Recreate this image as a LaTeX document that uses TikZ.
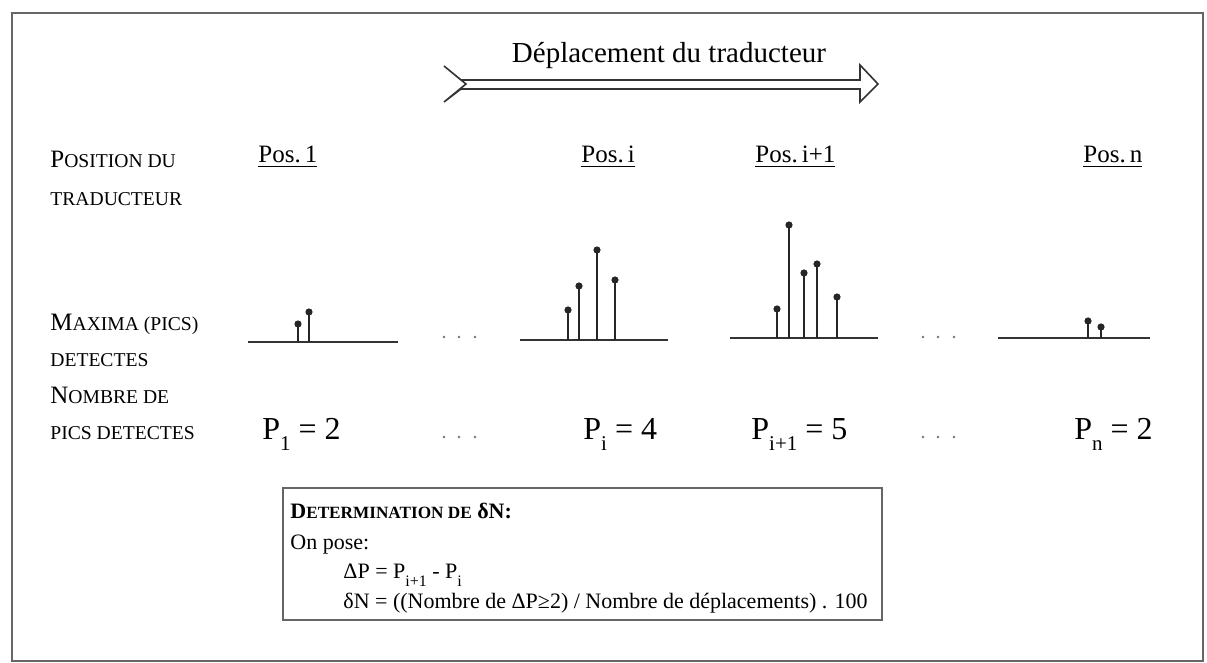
\documentclass[tikz,border=0pt]{standalone}
\usepackage{fontspec}
\setmainfont{Liberation Serif}
\newcommand\bigsc[2]{{\fontsize{12.5}{15}\selectfont #1}{\fontsize{9.8}{12}\selectfont #2}}
\newcommand\smsc[1]{{\fontsize{9.8}{12}\selectfont #1}}
\newcommand\lowsub[3]{\raisebox{-#1}{\fontsize{#2}{12}\selectfont #3}}
\begin{document}
\begin{tikzpicture}[x=0.5pt,y=-0.5pt,
  lbl/.style={anchor=base west, inner sep=0pt},
  poslbl/.style={anchor=base west, inner sep=0pt, font=\fontsize{12.5}{15}\selectfont},
  val/.style={anchor=base west, inner sep=0pt, font=\fontsize{16}{19}\selectfont},
  boxtxt/.style={anchor=base west, inner sep=0pt, font=\fontsize{11}{14}\selectfont},
  axisline/.style={line width=1pt, black!80},
  stemline/.style={line width=1.1pt, black!85},
  frameline/.style={line width=0.6pt, black!60},
  ellip/.style={circle, fill=black!55, inner sep=0pt, minimum size=1.3pt}]
\useasboundingbox (0,0) rectangle (1207,663);
% outer frame
\draw[frameline] (12,13) rectangle (1203,661);
% title and arrow
\node[anchor=base, inner sep=0pt, font=\fontsize{14.5}{17}\selectfont] (title) at (669,63) {Déplacement du traducteur};
\draw[line width=0.8pt, black!80] (444,66) -- (461,80) -- (860,80) -- (860,65) -- (878,84) -- (860,102) -- (860,89) -- (461,89) -- (444,102) -- (466,84) -- cycle;
% row labels
\node[lbl] (l1a) at (50,168) {\bigsc{P}{OSITION DU}};
\node[lbl] (l1b) at (50,206) {\smsc{TRADUCTEUR}};
\node[lbl] (l2a) at (50,331) {\bigsc{M}{AXIMA (PICS)}};
\node[lbl] (l2b) at (50,367) {\smsc{DETECTES}};
\node[lbl] (l3a) at (50,404) {\bigsc{N}{OMBRE DE}};
\node[lbl] (l3b) at (50,440) {\smsc{PICS DETECTES}};
% position headers
\node[poslbl] (pos1) at (258,163) {\underline{Pos.\,1}};
\node[poslbl] (posi) at (581,163) {\underline{Pos.\,i}};
\node[poslbl] (posj) at (755,163) {\underline{Pos.\,i+1}};
\node[poslbl] (posn) at (1083,163) {\underline{Pos.\,n}};
% axes
\draw[axisline] (248,342) -- (398,342);
\draw[axisline] (520,340) -- (668,340);
\draw[axisline] (730,338) -- (878,338);
\draw[axisline] (998,338) -- (1150,338);
% stems
\foreach \x/\b/\t in {298/342/324, 309/342/312,
                      568/340/310, 579/340/286, 597/340/250, 615/340/280,
                      777/338/309, 789/338/225, 804/338/273, 817/338/264, 837/338/297,
                      1088/338/321, 1101/338/327}{
  \draw[stemline] (\x,\b) -- (\x,\t);
  \fill[black!85] (\x,\t) circle (1.8pt);
}
% ellipses
\foreach \x in {444,459,475,923,938,954}{
  \node[ellip] at (\x,337) {};
  \node[ellip] at (\x,437) {};
}
% counts
\node[val] (v1) at (262,440) {P\lowsub{5.5pt}{10.5}{1} = 2};
\node[val] (vi) at (583,440) {P\lowsub{5.5pt}{10.5}{i} = 4};
\node[val] (vj) at (751,440) {P\lowsub{5.5pt}{10.5}{i+1} = 5};
\node[val] (vn) at (1074,440) {P\lowsub{5.5pt}{10.5}{n} = 2};
% box
\draw[frameline] (283,488) rectangle (882,620);
\node[boxtxt] (b1) at (290,519) {\textbf{D{\fontsize{8.6}{10}\selectfont ETERMINATION DE} δN:}};
\node[boxtxt] (b2) at (290,550) {On pose:};
\node[boxtxt] (b3) at (343,579) {ΔP = P\lowsub{4pt}{8}{i+1} - P\lowsub{4pt}{8}{i}};
\node[boxtxt] (b4) at (343,609) {δN = ((Nombre de ΔP≥2) / Nombre de déplacements) . 100};
\end{tikzpicture}
\end{document}
